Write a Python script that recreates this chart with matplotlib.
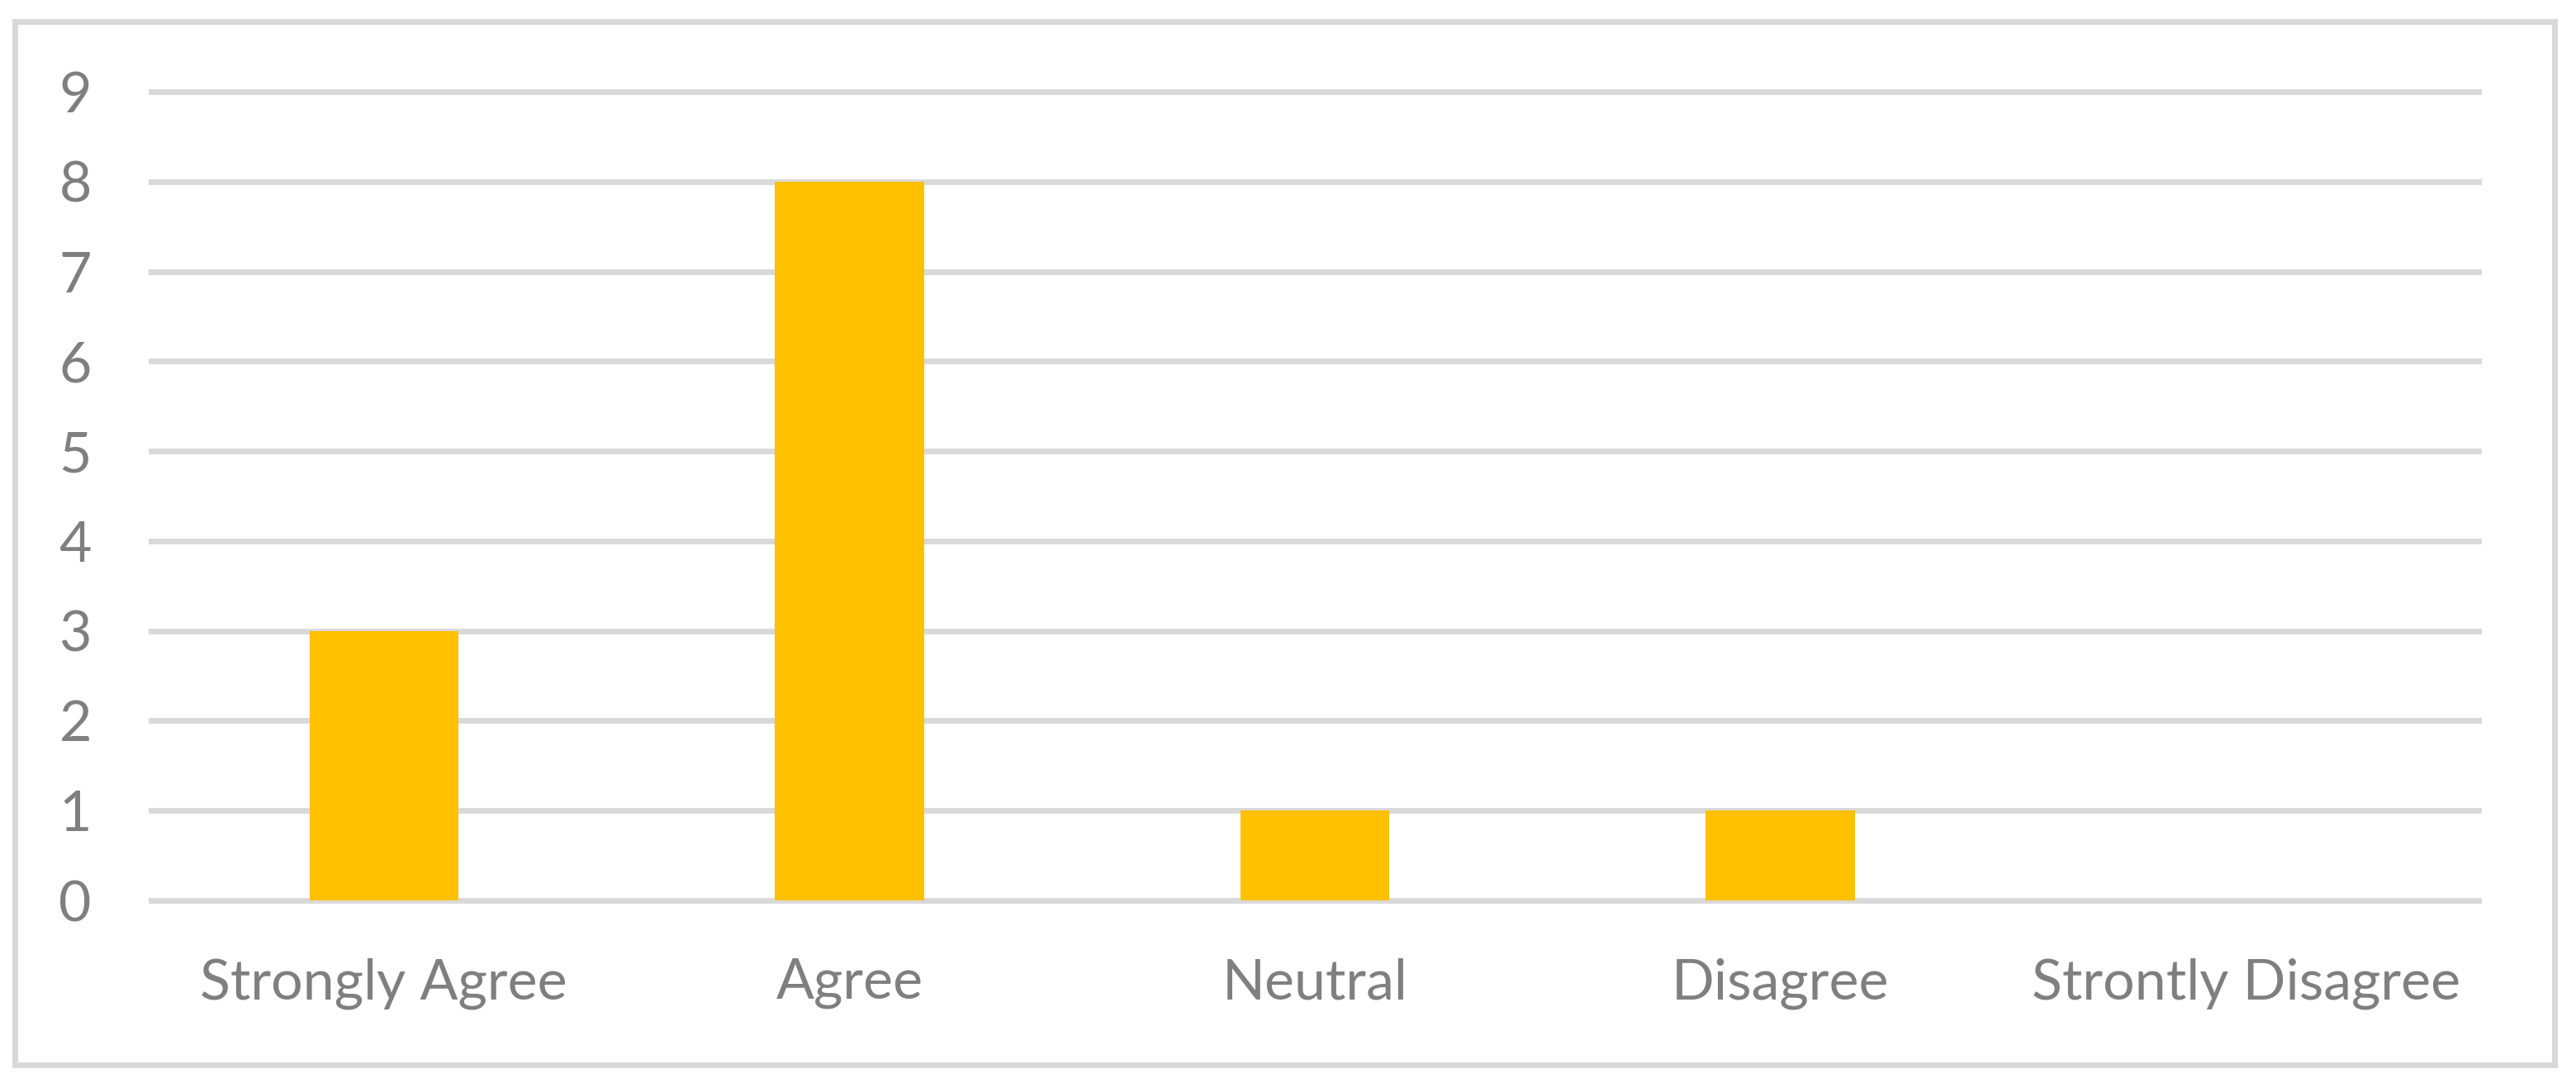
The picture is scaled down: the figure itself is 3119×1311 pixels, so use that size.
import matplotlib as mpl
mpl.use("Agg")
import matplotlib.pyplot as plt
import numpy as np
from matplotlib.patches import Rectangle

categories = ["Strongly Agree", "Agree", "Neutral", "Disagree", "Strontly Disagree"]
counts = [3, 8, 1, 1, 0]
y_ticks = list(range(0, 10))

W, H = 3119, 1311
DPI = 100
grid_col = "#D9D9D9"
text_col = "#7F7F7F"
bar_col = "#FFC000"

plt.rcParams["font.family"] = ["Lato", "DejaVu Sans"]

fig = plt.figure(figsize=(W / DPI, H / DPI), dpi=DPI)

# outer chart border
fig.patches.append(Rectangle((18 / W, 1 - 1289 / H), (3093 - 18) / W, (1289 - 26) / H,
                             transform=fig.transFigure, fill=False,
                             edgecolor=grid_col, linewidth=5))

ax = fig.add_axes([183 / W, 1 - 1090 / H, (3001 - 183) / W, (1090 - 111) / H])
x = np.arange(len(categories))
ax.bar(x, counts, width=0.32, color=bar_col, zorder=3)

ax.set_xlim(-0.5, len(categories) - 0.5)
ax.set_ylim(0, 9)
ax.set_yticks(y_ticks)
ax.set_xticks(x)
ax.set_xticklabels(categories)
for yv in y_ticks:
    ax.axhline(yv, color=grid_col, linewidth=5, zorder=1, clip_on=False)

for s in ax.spines.values():
    s.set_visible(False)
ax.tick_params(axis="both", length=0, colors=text_col, labelsize=49)
ax.tick_params(axis="y", pad=52)
ax.tick_params(axis="x", pad=50)

fig.savefig("out.png", dpi=DPI)
